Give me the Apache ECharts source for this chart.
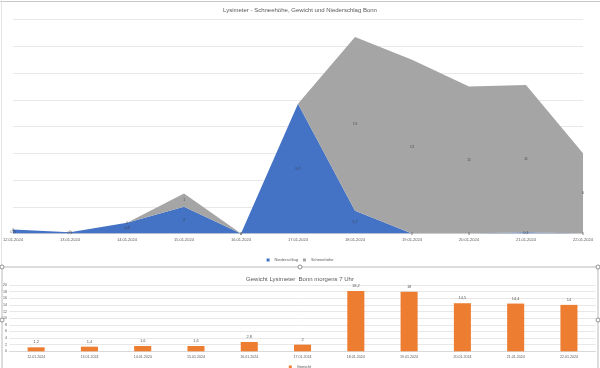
<!DOCTYPE html>
<html><head><meta charset="utf-8">
<script src="https://cdn.jsdelivr.net/npm/echarts@6/dist/echarts.min.js"></script>
<style>html,body{margin:0;padding:0;background:#fff}#c{width:600px;height:368px}</style>
</head><body><div id="c"></div>
<script>
const categories = ['12.01.2024','13.01.2024','14.01.2024','15.01.2024','16.01.2024','17.01.2024','18.01.2024','19.01.2024','20.01.2024','21.01.2024','22.01.2024'];
const niederschlag = [0.3, 0.1, 0.8, 2, 0, 9.7, 1.7, 0, 0, 0.1, 0];
const schneehoehe = [0, 0, 0, 1, 0, 0, 13, 13, 11, 11, 6];
const gewicht = [1.2, 1.4, 1.6, 1.6, 2.8, 2, 18.2, 18, 14.5, 14.4, 14];
const topAxis = {min: 0, max: 16, interval: 2};
const bottomAxis = {min: 0, max: 20, interval: 2};

const fmt = v => String(v).replace('.', ',');
const FONT = 'Liberation Sans';
const TXT = '#595959';
const GRID = '#d9d9d9';

const midBlue = niederschlag.map(v => v / 2);
const midGray = niederschlag.map((v, i) => v + schneehoehe[i] / 2);

const chart = echarts.init(document.getElementById('c'), null, {renderer: 'canvas'});
chart.setOption({
  animation: false,
  textStyle: {fontFamily: FONT},
  title: [
    {text: 'Lysimeter - Schneehöhe, Gewicht und Niederschlag Bonn', left: 'center', top: 2,
     textStyle: {fontSize: 6, fontWeight: 'normal', color: TXT, fontFamily: FONT}},
    {text: 'Gewicht Lysimeter  Bonn morgens 7 Uhr', left: 'center', top: 271,
     textStyle: {fontSize: 6, fontWeight: 'normal', color: TXT, fontFamily: FONT}}
  ],
  legend: [
    {data: ['Niederschlag', 'Schneehöhe'], left: 'center', top: 253, icon: 'rect',
     itemWidth: 3, itemHeight: 3, itemGap: 5,
     textStyle: {fontSize: 4, color: TXT, fontFamily: FONT}},
    {data: ['Gewicht'], left: 'center', top: 360, icon: 'rect',
     itemWidth: 3, itemHeight: 3,
     textStyle: {fontSize: 4, color: TXT, fontFamily: FONT}}
  ],
  grid: [
    {left: 12, right: 17, top: 19.5, bottom: 134.5},
    {left: 9.4, right: 4.4, top: 285, bottom: 16.7}
  ],
  xAxis: [
    {type: 'category', gridIndex: 0, data: categories, boundaryGap: false,
     axisLine: {lineStyle: {color: GRID}}, axisTick: {show: false},
     axisLabel: {fontSize: 4, color: TXT, margin: 4, interval: 0, fontFamily: FONT}},
    {type: 'category', gridIndex: 1, data: categories, boundaryGap: true,
     axisLine: {lineStyle: {color: GRID}}, axisTick: {show: false},
     axisLabel: {fontSize: 3.6, color: TXT, margin: 4, interval: 0, fontFamily: FONT}}
  ],
  yAxis: [
    {type: 'value', gridIndex: 0, min: topAxis.min, max: topAxis.max, interval: topAxis.interval,
     axisLabel: {show: false}, axisLine: {show: false}, axisTick: {show: false},
     splitLine: {lineStyle: {color: GRID, width: 0.6}}},
    {type: 'value', gridIndex: 1, min: bottomAxis.min, max: bottomAxis.max, interval: bottomAxis.interval,
     axisLabel: {fontSize: 3.6, color: TXT, margin: 2.5, fontFamily: FONT},
     axisLine: {show: false}, axisTick: {show: false},
     splitLine: {lineStyle: {color: GRID, width: 0.6}}}
  ],
  series: [
    {name: 'Niederschlag', type: 'line', stack: 'a', xAxisIndex: 0, yAxisIndex: 0,
     data: niederschlag, symbol: 'none', lineStyle: {width: 0}, color: '#4472c4',
     areaStyle: {color: '#4472c4', opacity: 1}},
    {name: 'Schneehöhe', type: 'line', stack: 'a', xAxisIndex: 0, yAxisIndex: 0,
     data: schneehoehe, symbol: 'none', lineStyle: {width: 0}, color: '#a5a5a5',
     areaStyle: {color: '#a5a5a5', opacity: 1}},
    {name: 'lblBlue', type: 'scatter', xAxisIndex: 0, yAxisIndex: 0, data: midBlue,
     symbolSize: 0, silent: true, z: 5,
     label: {show: true, position: 'inside', fontSize: 4, color: '#404040', fontFamily: FONT,
       formatter: p => fmt(niederschlag[p.dataIndex])}},
    {name: 'lblGray', type: 'scatter', xAxisIndex: 0, yAxisIndex: 0, data: midGray,
     symbolSize: 0, silent: true, z: 5,
     label: {show: true, position: 'inside', fontSize: 4, color: '#404040', fontFamily: FONT,
       formatter: p => (p.dataIndex === 5 ? '' : fmt(schneehoehe[p.dataIndex]))}},
    {name: 'Gewicht', type: 'bar', xAxisIndex: 1, yAxisIndex: 1, data: gewicht,
     barWidth: '32%', color: '#ed7d31', itemStyle: {color: '#ed7d31'},
     label: {show: true, position: 'top', distance: 3, fontSize: 4, color: TXT, fontFamily: FONT,
       formatter: p => fmt(p.value)}}
  ],
  graphic: [
    {type: 'line', shape: {x1: 0, y1: 1.5, x2: 600, y2: 1.5}, style: {stroke: '#c8c8c8', lineWidth: 1}, silent: true},
    {type: 'line', shape: {x1: 1.5, y1: 0, x2: 1.5, y2: 267}, style: {stroke: '#e4e4e4', lineWidth: 1}, silent: true},
    {type: 'rect', shape: {x: 2, y: 267, width: 596, height: 110}, style: {fill: 'none', stroke: '#a8a8a8', lineWidth: 0.8}, silent: true},
    {type: 'circle', shape: {cx: 2, cy: 267, r: 2}, style: {fill: '#fff', stroke: '#777', lineWidth: 0.8}, silent: true},
    {type: 'circle', shape: {cx: 300, cy: 267, r: 2}, style: {fill: '#fff', stroke: '#777', lineWidth: 0.8}, silent: true},
    {type: 'circle', shape: {cx: 598, cy: 267, r: 2}, style: {fill: '#fff', stroke: '#777', lineWidth: 0.8}, silent: true},
    {type: 'circle', shape: {cx: 2, cy: 320, r: 2}, style: {fill: '#fff', stroke: '#777', lineWidth: 0.8}, silent: true},
    {type: 'circle', shape: {cx: 598, cy: 320, r: 2}, style: {fill: '#fff', stroke: '#777', lineWidth: 0.8}, silent: true}
  ]
});
</script></body></html>
